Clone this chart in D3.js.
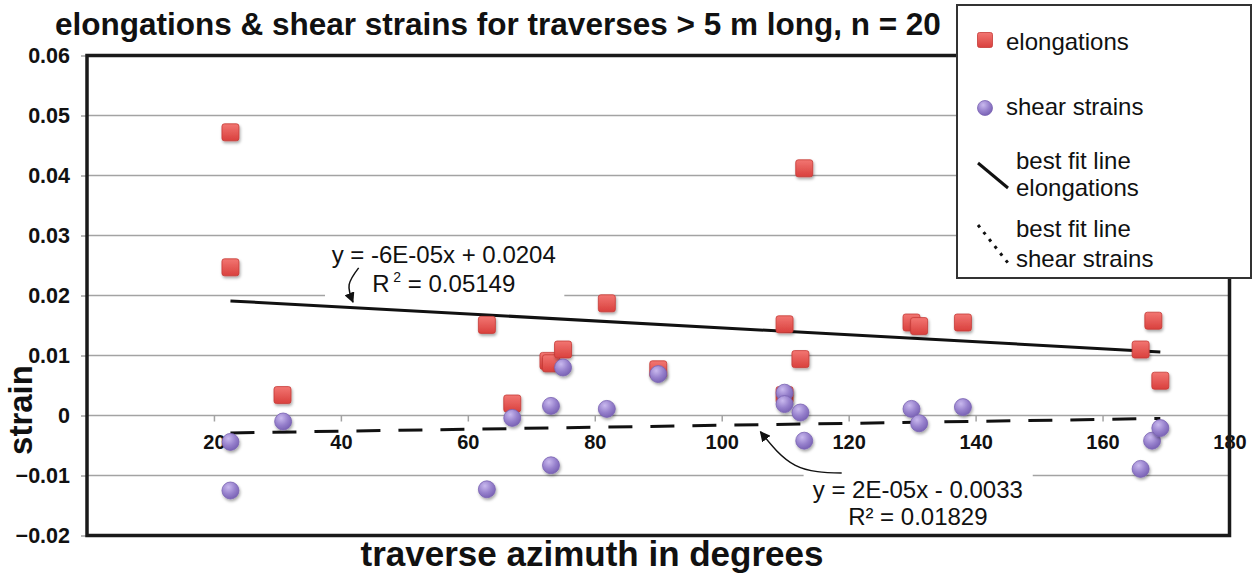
<!DOCTYPE html>
<html>
<head>
<meta charset="utf-8">
<title>elongations & shear strains</title>
<script src="https://d3js.org/d3.v7.min.js"></script>
<style>
  body { margin: 0; background: #fff; }
  svg text { font-family: "Liberation Sans", Arial, Helvetica, sans-serif; fill: #111; }
</style>
</head>
<body>
<div id="chart"></div>
<script>
// traverse azimuth (degrees) and strain
var elongAz     = [22.6, 22.6, 30.8, 63.0, 67.0, 72.7, 73.1, 75.0, 81.9, 90.0, 109.9, 109.9, 112.4, 113.0, 129.9, 131.1, 138.0, 166.0, 168.0, 169.1];
var elongStrain = [0.0472, 0.0247, 0.0034, 0.0151, 0.0020, 0.0091, 0.0087, 0.0110, 0.0187, 0.0077, 0.0152, 0.0034, 0.0094, 0.0412, 0.0155, 0.0149, 0.0155, 0.0110, 0.0158, 0.0058];

var shearAz     = [22.6, 22.6, 30.9, 63.0, 67.0, 73.1, 73.1, 75.0, 81.9, 90.0, 109.9, 109.9, 112.4, 113.0, 129.9, 131.1, 138.0, 166.0, 167.8, 169.1];
var shearStrain = [-0.0044, -0.0125, -0.0010, -0.0123, -0.0004, 0.0016, -0.0083, 0.0080, 0.0011, 0.0069, 0.0038, 0.0019, 0.0005, -0.0042, 0.0011, -0.0013, 0.0014, -0.0089, -0.0042, -0.0021];

// best fit line end points
var fitAz          = [22.6, 169.1];
var fitElongStrain = [0.0191, 0.0106];
var fitShearStrain = [-0.0029, -0.0005];

var xTicks = [20, 40, 60, 80, 100, 120, 140, 160, 180];
var yTicks = [-0.02, -0.01, 0, 0.01, 0.02, 0.03, 0.04, 0.05, 0.06];

var titleText = "elongations & shear strains for traverses > 5 m long, n = 20";
var xLabel = "traverse azimuth in degrees";
var yLabel = "strain";
var legendLabels = ["elongations", "shear strains", ["best fit line", "elongations"], ["best fit line", "shear strains"]];

var width = 1253, height = 573;
var margin = {top: 55.5, right: 23.5, bottom: 37.5, left: 87};

var svg = d3.select("#chart").append("svg")
    .attr("width", width)
    .attr("height", height);

var defs = svg.append("defs");
var rg = defs.append("linearGradient").attr("id", "redFill").attr("x1", 0).attr("y1", 0).attr("x2", 0).attr("y2", 1);
rg.append("stop").attr("offset", "0%").attr("stop-color", "#f27672");
rg.append("stop").attr("offset", "100%").attr("stop-color", "#d9403d");
var pg = defs.append("radialGradient").attr("id", "purpleFill").attr("cx", "38%").attr("cy", "30%").attr("r", "70%");
pg.append("stop").attr("offset", "0%").attr("stop-color", "#c9b9ee");
pg.append("stop").attr("offset", "60%").attr("stop-color", "#9680cc");
pg.append("stop").attr("offset", "100%").attr("stop-color", "#7b64b6");
var sh = defs.append("filter").attr("id", "shadow").attr("x", "-40%").attr("y", "-40%").attr("width", "180%").attr("height", "180%");
sh.append("feDropShadow").attr("dx", 1).attr("dy", 2).attr("stdDeviation", 1.5).attr("flood-opacity", 0.35);
defs.append("marker").attr("id", "arrow")
    .attr("viewBox", "0 0 10 10").attr("refX", 9).attr("refY", 5)
    .attr("markerWidth", 7).attr("markerHeight", 7).attr("orient", "auto-start-reverse")
    .append("path").attr("d", "M0,0 L10,5 L0,10 z").attr("fill", "#111");

var x = d3.scaleLinear().domain([0, 180]).range([margin.left, width - margin.right]);
var y = d3.scaleLinear().domain([-0.02, 0.06]).range([height - margin.bottom, margin.top]);

// gridlines
svg.append("g").selectAll("line")
  .data(yTicks.slice(1, -1))
  .enter().append("line")
    .attr("x1", x(0)).attr("x2", x(180))
    .attr("y1", function(d) { return y(d); })
    .attr("y2", function(d) { return y(d); })
    .style("stroke", "#a3a3a3")
    .style("stroke-width", 1.5);

// y axis
var yAxis = svg.append("g")
    .attr("transform", "translate(" + x(0) + ",0)")
    .call(d3.axisLeft(y).tickValues(yTicks).tickSize(6).tickPadding(11)
      .tickFormat(function(d) { return d === 0 ? "0" : d3.format(".2f")(d); }));
yAxis.select(".domain").remove();
yAxis.selectAll("line").style("stroke", "#a3a3a3").style("stroke-width", 1.5);
yAxis.selectAll("text").style("font-size", "21.5px").style("font-weight", "bold").style("font-family", "'Liberation Sans', Arial, sans-serif").attr("fill", "#111");

// x axis on the zero line
var xAxis = svg.append("g")
    .attr("transform", "translate(0," + y(0) + ")")
    .call(d3.axisBottom(x).tickValues(xTicks).tickSize(6).tickPadding(13));
xAxis.select(".domain").remove();
xAxis.selectAll("line").style("stroke", "#a3a3a3").style("stroke-width", 1.5);
xAxis.selectAll("text").style("font-size", "20px").style("font-weight", "bold").style("font-family", "'Liberation Sans', Arial, sans-serif").attr("fill", "#111");

// fit-label backgrounds
var labelBoxes = [
  {x0: 37.5, x1: 75.2, y0: 0.0293, y1: 0.0193},
  {x0: 112.9, x1: 149.0, y0: -0.0091, y1: -0.0200}
];
svg.append("g").selectAll("rect")
  .data(labelBoxes)
  .enter().append("rect")
    .attr("x", function(d) { return x(d.x0); })
    .attr("y", function(d) { return y(d.y0); })
    .attr("width", function(d) { return x(d.x1) - x(d.x0); })
    .attr("height", function(d) { return y(d.y1) - y(d.y0); })
    .style("fill", "#fff");

// plot border
svg.append("rect")
    .attr("x", x(0)).attr("y", y(0.06))
    .attr("width", x(180) - x(0)).attr("height", y(-0.02) - y(0.06))
    .style("fill", "none").style("stroke", "#1a1a1a").style("stroke-width", 3.5);

// best fit lines
var line = d3.line().x(function(d) { return x(d[0]); }).y(function(d) { return y(d[1]); });
svg.append("path")
    .attr("d", line(fitAz.map(function(a, i) { return [a, fitElongStrain[i]]; })))
    .style("fill", "none").style("stroke", "#111").style("stroke-width", 3);
svg.append("path")
    .attr("d", line(fitAz.map(function(a, i) { return [a, fitShearStrain[i]]; })))
    .style("fill", "none").style("stroke", "#111").style("stroke-width", 3)
    .style("stroke-dasharray", "24,18");

// elongations
svg.append("g").selectAll("rect")
  .data(elongAz.map(function(a, i) { return [a, elongStrain[i]]; }))
  .enter().append("rect")
    .attr("x", function(d) { return x(d[0]) - 8.5; })
    .attr("y", function(d) { return y(d[1]) - 8.5; })
    .attr("width", 17).attr("height", 17).attr("rx", 2.5)
    .style("fill", "url(#redFill)").style("stroke", "#c53a36").style("stroke-width", 0.8)
    .attr("filter", "url(#shadow)");

// shear strains
svg.append("g").selectAll("circle")
  .data(shearAz.map(function(a, i) { return [a, shearStrain[i]]; }))
  .enter().append("circle")
    .attr("cx", function(d) { return x(d[0]); })
    .attr("cy", function(d) { return y(d[1]); })
    .attr("r", 8.5)
    .style("fill", "url(#purpleFill)").style("stroke", "#7a63b3").style("stroke-width", 0.8)
    .attr("filter", "url(#shadow)");

// fit equations
var eq1 = svg.append("g").style("font-size", "24px");
eq1.append("text").attr("x", x(56.2)).attr("y", y(0.0254)).attr("text-anchor", "middle").text("y = -6E-05x + 0.0204");
var r1 = eq1.append("text").attr("x", x(56.2)).attr("y", y(0.0206)).attr("text-anchor", "middle");
r1.append("tspan").text("R");
r1.append("tspan").attr("dy", -10).style("font-size", "14px").text(" 2");
r1.append("tspan").attr("dy", 10).text(" = 0.05149");

var eq2 = svg.append("g").style("font-size", "24px");
eq2.append("text").attr("x", x(130.9)).attr("y", y(-0.0137)).attr("text-anchor", "middle").text("y = 2E-05x - 0.0033");
eq2.append("text").attr("x", x(130.9)).attr("y", y(-0.0183)).attr("text-anchor", "middle").text("R² = 0.01829");

// curved arrows to the fit lines
var curve = d3.line().x(function(d) { return x(d[0]); }).y(function(d) { return y(d[1]); }).curve(d3.curveNatural);
svg.append("path")
    .attr("d", curve([[42.8, 0.0246], [41.3, 0.0218], [41.9, 0.0189]]))
    .style("fill", "none").style("stroke", "#111").style("stroke-width", 1.5)
    .attr("marker-end", "url(#arrow)");
svg.append("path")
    .attr("d", curve([[118.9, -0.0096], [111.6, -0.0083], [106.1, -0.0027]]))
    .style("fill", "none").style("stroke", "#111").style("stroke-width", 1.5)
    .attr("marker-end", "url(#arrow)");

// title and axis titles
svg.append("text")
    .attr("x", 55).attr("y", 35)
    .style("font-size", "31.5px").style("font-weight", "bold")
    .text(titleText);
svg.append("text")
    .attr("x", 592).attr("y", 566)
    .attr("text-anchor", "middle")
    .style("font-size", "35px").style("font-weight", "bold")
    .text(xLabel);
svg.append("text")
    .attr("transform", "translate(32," + 410 + ") rotate(-90)")
    .attr("text-anchor", "middle")
    .style("font-size", "33px").style("font-weight", "bold")
    .text(yLabel);

// legend
var lg = svg.append("g").attr("transform", "translate(957,5)");
lg.append("rect").attr("width", 294).attr("height", 273)
    .style("fill", "#fff").style("stroke", "#333").style("stroke-width", 2);
lg.append("rect").attr("x", 20.5).attr("y", 27.5).attr("width", 15).attr("height", 15).attr("rx", 2)
    .style("fill", "url(#redFill)").style("stroke", "#c53a36").style("stroke-width", 0.8);
lg.append("circle").attr("cx", 28).attr("cy", 103).attr("r", 7.5)
    .style("fill", "url(#purpleFill)").style("stroke", "#7a63b3").style("stroke-width", 0.8);
lg.append("line").attr("x1", 21).attr("y1", 158).attr("x2", 51).attr("y2", 183)
    .style("stroke", "#111").style("stroke-width", 3);
lg.append("line").attr("x1", 21).attr("y1", 220).attr("x2", 51).attr("y2", 258)
    .style("stroke", "#111").style("stroke-width", 3).style("stroke-dasharray", "3,6");
lg.append("text").attr("x", 49).attr("y", 45).style("font-size", "24px").text(legendLabels[0]);
lg.append("text").attr("x", 49).attr("y", 110).style("font-size", "24px").text(legendLabels[1]);
lg.append("text").attr("x", 59).attr("y", 164).style("font-size", "24px").text(legendLabels[2][0]);
lg.append("text").attr("x", 59).attr("y", 191).style("font-size", "24px").text(legendLabels[2][1]);
lg.append("text").attr("x", 59).attr("y", 232).style("font-size", "24px").text(legendLabels[3][0]);
lg.append("text").attr("x", 59).attr("y", 262).style("font-size", "24px").text(legendLabels[3][1]);
</script>
</body>
</html>
